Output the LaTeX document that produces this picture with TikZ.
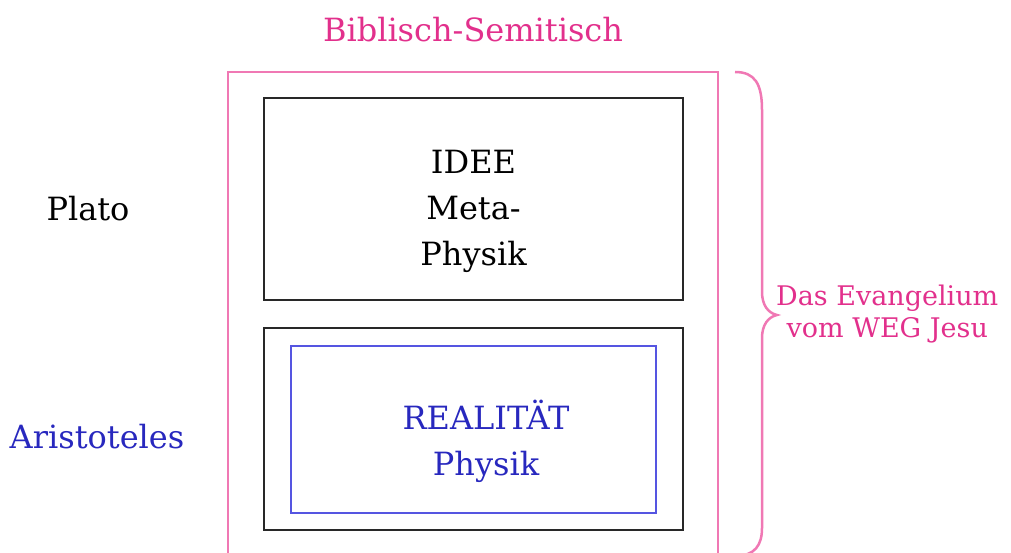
\documentclass[tikz,border=0pt]{standalone}
\usepackage{fontspec}
\setmainfont{DejaVu Serif}
\definecolor{pinktext}{RGB}{226,48,140}
\definecolor{pinkline}{RGB}{240,120,180}
\definecolor{bluetext}{RGB}{40,40,190}
\definecolor{blueline}{RGB}{85,85,225}
\definecolor{boxline}{RGB}{40,40,40}
\tikzset{
  frame/.style={draw, line width=2.5pt, minimum width=#1, inner sep=0pt},
  bigtext/.style={font=\fontsize{32}{46}\selectfont, align=center, inner sep=0pt},
  smalltext/.style={font=\fontsize{27}{32}\selectfont, align=center, inner sep=0pt},
}
\begin{document}
\begin{tikzpicture}[x=1pt,y=-1pt]
\useasboundingbox (0,0) rectangle (1011,553);
\clip (0,0) rectangle (1011,553);
% outer pink frame
\node[frame=490pt, draw=pinkline, minimum height=506pt] (outer) at (473,325) {};
% top black box
\node[frame=419pt, draw=boxline, minimum height=202pt] (top) at (473.5,199) {};
% bottom black box
\node[frame=419pt, draw=boxline, minimum height=202pt] (bottom) at (473.5,429) {};
% inner blue box
\node[frame=365pt, draw=blueline, minimum height=167pt] (blue) at (473.5,429.5) {};
% texts
\node[bigtext, text=pinktext] (title) at (473,30) {Biblisch-Semitisch};
\node[bigtext] (idee) at (473.5,211) {IDEE\\Meta-\\Physik};
\node[bigtext, text=bluetext] (real) at (486,441) {REALITÄT\\Physik};
\node[bigtext] (plato) at (88,209) {Plato};
\node[bigtext, text=bluetext] (aristo) at (97,437) {Aristoteles};
% brace
\coordinate (btop) at (735,72);
\coordinate (btip) at (777,315);
\coordinate (bbot) at (735,556);
\draw[pinkline, line width=2.5pt]
  (btop) .. controls (755,72) and (762,84) .. (762,110)
  -- (762,292) .. controls (762,305) and (768,313) .. (btip)
  .. controls (768,317) and (762,325) .. (762,338)
  -- (762,528) .. controls (762,545) and (755,556) .. (bbot);
\node[smalltext, text=pinktext, anchor=west] (evang) at (776,314) {Das Evangelium\\vom WEG Jesu};
\end{tikzpicture}
\end{document}
